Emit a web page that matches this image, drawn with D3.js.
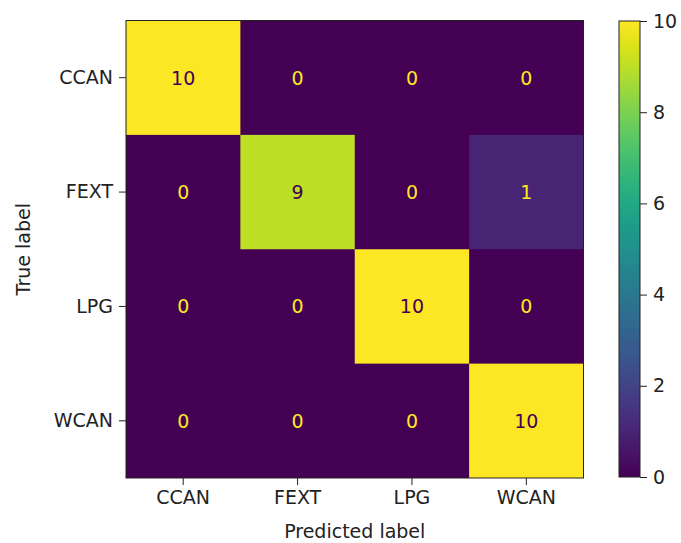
<!DOCTYPE html>
<html>
<head>
<meta charset="utf-8">
<script src="https://cdn.jsdelivr.net/npm/d3@7"></script>
<style>
  body { margin: 0; background: #fff; }
  text { font-family: "DejaVu Sans", sans-serif; }
</style>
</head>
<body>
<div id="chart"></div>
<script>
// confusion matrix data
const labels = ["CCAN", "FEXT", "LPG", "WCAN"];
const matrix = [
    [10, 0, 0, 0],
    [0, 9, 0, 1],
    [0, 0, 10, 0],
    [0, 0, 0, 10]
];
const colorbarTicks = [0, 2, 4, 6, 8, 10];

const svgWidth = 681;
const svgHeight = 543;
const fontSize = "19px";
const ink = "#222";

const plot = { left: 126, top: 20.5, size: 457.5 };

const svg = d3.select("#chart").append("svg")
    .attr("width", svgWidth)
    .attr("height", svgHeight);

const x = d3.scaleBand()
    .domain(labels)
    .range([plot.left, plot.left + plot.size]);

const y = d3.scaleBand()
    .domain(labels)
    .range([plot.top, plot.top + plot.size]);

const color = d3.scaleSequential(d3.interpolateViridis).domain([0, 10]);

const cells = [];
matrix.forEach((row, i) => row.forEach((v, j) => cells.push({ t: labels[i], p: labels[j], v: v })));

// base layer in the lowest colour, so no seams show between dark cells
svg.append("rect")
    .attr("x", plot.left)
    .attr("y", plot.top)
    .attr("width", plot.size)
    .attr("height", plot.size)
    .attr("fill", color(0));

svg.append("g")
    .selectAll("rect")
    .data(cells.filter(d => d.v > 0))
    .join("rect")
    .attr("x", d => x(d.p))
    .attr("y", d => y(d.t))
    .attr("width", x.bandwidth())
    .attr("height", y.bandwidth())
    .attr("fill", d => color(d.v));

svg.append("g")
    .style("font-size", fontSize)
    .attr("text-anchor", "middle")
    .selectAll("text")
    .data(cells)
    .join("text")
    .attr("x", d => x(d.p) + x.bandwidth() / 2)
    .attr("y", d => y(d.t) + y.bandwidth() / 2)
    .attr("dy", "0.36em")
    // dark text on bright cells, yellow on dark ones
    .attr("fill", d => d.v > 5 ? color(0) : color(10))
    .text(d => d.v);

// frame
svg.append("rect")
    .attr("x", plot.left)
    .attr("y", plot.top)
    .attr("width", plot.size)
    .attr("height", plot.size)
    .attr("fill", "none")
    .attr("stroke", ink)
    .attr("stroke-width", 1);

const xAxis = g => g
    .attr("transform", `translate(0,${plot.top + plot.size})`)
    .call(d3.axisBottom(x).tickSize(7).tickPadding(6))
    .call(g => g.select(".domain").remove());

const yAxis = g => g
    .attr("transform", `translate(${plot.left},0)`)
    .call(d3.axisLeft(y).tickSize(7).tickPadding(6))
    .call(g => g.select(".domain").remove());

svg.append("g").call(xAxis);
svg.append("g").call(yAxis);

svg.selectAll(".tick text")
    .style("font-family", "DejaVu Sans, sans-serif")
    .style("font-size", fontSize)
    .attr("fill", ink);
svg.selectAll(".tick line").attr("stroke", ink);

svg.append("text")
    .attr("x", plot.left + plot.size / 2)
    .attr("y", 538)
    .attr("text-anchor", "middle")
    .style("font-size", fontSize)
    .attr("fill", ink)
    .text("Predicted label");

svg.append("text")
    .attr("transform", `translate(30,${plot.top + plot.size / 2}) rotate(-90)`)
    .attr("text-anchor", "middle")
    .style("font-size", fontSize)
    .attr("fill", ink)
    .text("True label");

// colorbar
const cb = { left: 619, width: 21, top: 21, bottom: 477 };
const cy = d3.scaleLinear().domain([0, 10]).range([cb.bottom, cb.top]);

const defs = svg.append("defs");
const grad = defs.append("linearGradient")
    .attr("id", "viridis")
    .attr("x1", "0").attr("y1", "1")
    .attr("x2", "0").attr("y2", "0");
grad.selectAll("stop")
    .data(d3.range(0, 1.0001, 0.05))
    .join("stop")
    .attr("offset", d => d)
    .attr("stop-color", d => d3.interpolateViridis(d));

svg.append("rect")
    .attr("x", cb.left)
    .attr("y", cb.top)
    .attr("width", cb.width)
    .attr("height", cb.bottom - cb.top)
    .attr("fill", "url(#viridis)")
    .attr("stroke", ink)
    .attr("stroke-width", 1);

svg.append("g")
    .attr("transform", `translate(${cb.left + cb.width},0)`)
    .call(d3.axisRight(cy).tickValues(colorbarTicks).tickSize(7).tickPadding(6))
    .call(g => g.select(".domain").remove())
    .call(g => g.selectAll("text")
        .style("font-family", "DejaVu Sans, sans-serif")
        .style("font-size", fontSize)
        .attr("fill", ink))
    .call(g => g.selectAll("line").attr("stroke", ink));
</script>
</body>
</html>
